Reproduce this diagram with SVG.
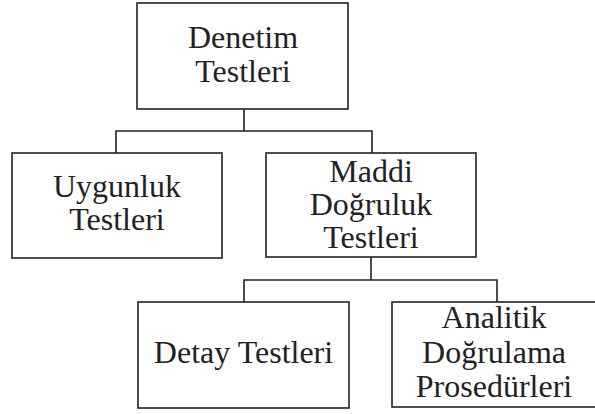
<svg xmlns="http://www.w3.org/2000/svg" width="595" height="414" viewBox="0 0 595 414">
<style>
.box{fill:#fff;stroke:#222;stroke-width:1.6}
.ln{fill:none;stroke:#222;stroke-width:1.6}
.t{font-family:'Liberation Serif','DejaVu Serif',serif;font-size:32px;fill:#222;text-anchor:middle}
</style>
<rect width="595" height="414" fill="#fff"/>
<g id="connectors">
<path class="ln" d="M244 109V131M116 153V131H372V153"/>
<path class="ln" d="M371 257V280M244 302V280H497V302"/>
</g>
<g id="denetim">
<rect class="box" x="137" y="3" width="211" height="106"/>
<text class="t" x="243" y="48" font-family="Liberation Serif, serif">Denetim</text>
<text class="t" x="243" y="82" font-family="Liberation Serif, serif">Testleri</text>
</g>
<g id="uygunluk">
<rect class="box" x="12" y="153" width="210" height="105"/>
<text class="t" x="117" y="197">Uygunluk</text>
<text class="t" x="117" y="230">Testleri</text>
</g>
<g id="maddi">
<rect class="box" x="266" y="153" width="210" height="104"/>
<text class="t" x="371" y="182">Maddi</text>
<text class="t" x="371" y="215">Doğruluk</text>
<text class="t" x="371" y="248">Testleri</text>
</g>
<g id="detay">
<rect class="box" x="138" y="302" width="211" height="106"/>
<text class="t" x="243.5" y="363">Detay Testleri</text>
</g>
<g id="analitik">
<rect class="box" x="392" y="302" width="205" height="105"/>
<text class="t" x="494" y="328">Analitik</text>
<text class="t" x="494" y="363">Doğrulama</text>
<text class="t" x="494" y="397">Prosedürleri</text>
</g>
</svg>
